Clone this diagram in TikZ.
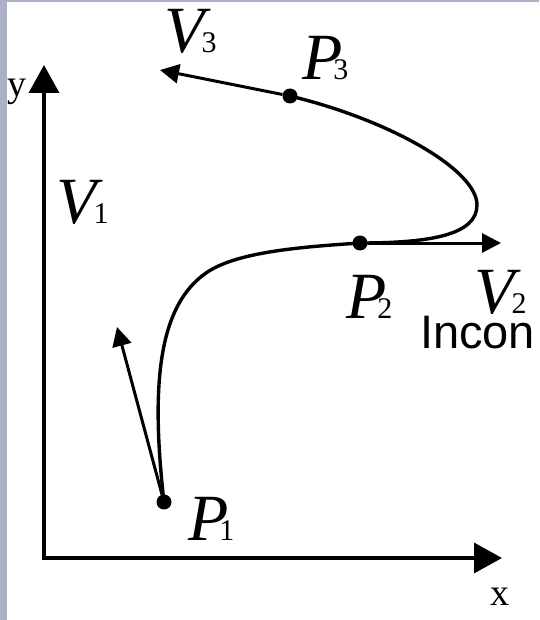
\documentclass[tikz,border=0pt]{standalone}
\usepackage{fontspec}
\setmainfont{Liberation Serif}
\newfontfamily\incfont{Liberation Sans}
\usetikzlibrary{arrows.meta}
\definecolor{slidebg}{RGB}{172,175,198}
\newcommand{\vlab}[2]{\fontsize{66}{66}\selectfont\textit{#1}\kern-9pt{\fontsize{30}{30}\selectfont #2}}

\begin{document}
\begin{tikzpicture}[x=1pt,y=-1pt,
  dot/.style={circle,fill=black,inner sep=0pt,minimum size=15pt},
  axis/.style={line width=3.6pt,{Triangle[length=28pt,width=30pt]}-{Triangle[length=28pt,width=30pt]}},
  vec/.style={line width=3pt,-{Triangle[length=19pt,width=19pt]}},
  lab/.style={anchor=base west,inner sep=0pt,outer sep=0pt}]

  \useasboundingbox (0,0) rectangle (539,620);
  \fill[white] (0,0) rectangle (539,620);
  \fill[slidebg] (0,0) rectangle (7,620);
  \fill[slidebg] (0,0) rectangle (539,2);

  % axes
  \coordinate (O) at (44,558);
  \coordinate (xtip) at (502,558);
  \coordinate (ytip) at (44,65);
  \draw[axis] (ytip) -- (O) -- (xtip);

  % points on the curve
  \node[dot] (P1) at (164,502) {};
  \node[dot] (P2) at (360,243) {};
  \node[dot] (P3) at (290,96) {};
  \coordinate (K) at (206,273);
  \coordinate (T) at (477,205);

  % vector tips
  \coordinate (v1) at (117,327);
  \coordinate (v2) at (501,243);
  \coordinate (v3) at (160,70);

  \draw[line width=3.4pt] (P1.center) .. controls (150,380) and (160,305) .. (K)
    .. controls (236,252) and (300,247) .. (P2.center)
    .. controls (430,243) and (477,235) .. (T)
    .. controls (477,170) and (390,120) .. (P3.center);

  \draw[vec] (P1) -- (v1);
  \draw[vec] (P2) -- (v2);
  \draw[vec] (P3) -- (v3);

  % labels
  \node[lab] (lV3) at (164,53)  {\vlab{V}{3}};
  \node[lab] (lP3) at (302,80)  {\vlab{P}{3}};
  \node[lab] (lV1) at (56,223)  {\vlab{V}{1}};
  \node[lab] (lP2) at (346,318) {\vlab{P}{2}};
  \node[lab] (lV2) at (474,313) {\vlab{V}{2}};
  \node[lab] (lP1) at (188,540) {\vlab{P}{1}};
  \node[lab] (lx)  at (490,605) {\fontsize{38}{38}\selectfont x};
  \node[lab] (ly)  at (8,97)    {\fontsize{38}{38}\selectfont y};
  \node[lab] (inc) at (420,348) {\incfont\fontsize{47}{47}\selectfont Incon};
\end{tikzpicture}
\end{document}
